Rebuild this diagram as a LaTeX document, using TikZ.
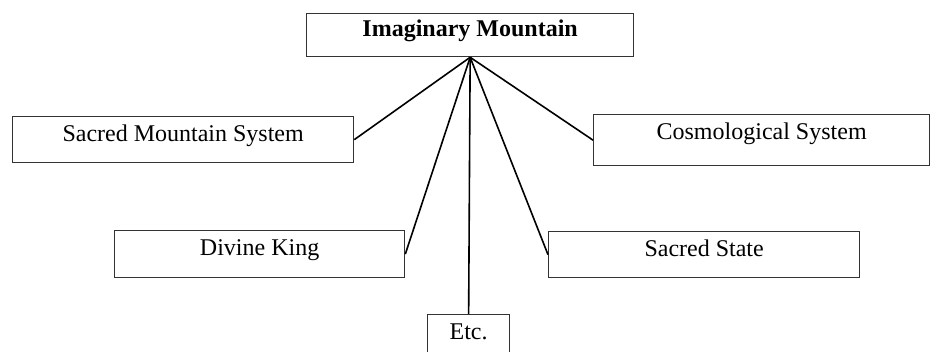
\documentclass[tikz,border=0pt]{standalone}
\usepackage{fontspec}
\setmainfont{Liberation Serif}
\begin{document}
\begin{tikzpicture}[x=1pt,y=-1pt,
  box/.style={draw=black!80, line width=1.3pt, rectangle, anchor=north west,
    inner xsep=0pt, inner ysep=0pt, text height=25pt,
    font=\fontsize{24}{28}\selectfont},
  link/.style={draw=black, line width=1.6pt}]
\useasboundingbox (0,0) rectangle (930,352);
\clip (0,0) rectangle (930,352);
\fill[white] (0,0) rectangle (930,352);

\node[box, minimum width=327pt, text height=23pt, text depth=20pt,
      font=\fontsize{24}{28}\selectfont\bfseries] (top) at (306,13) {Imaginary Mountain};
\node[box, minimum width=341pt, text depth=21pt] (smt) at (12,116) {Sacred Mountain System};
\node[box, minimum width=336pt, text depth=26pt] (cos) at (593,114) {Cosmological System};
\node[box, minimum width=290pt, text depth=22pt] (dk)  at (114,230) {Divine King};
\node[box, minimum width=311pt, text depth=21pt] (ss)  at (548,231) {Sacred State};
\node[box, minimum width=82pt,  text depth=25pt] (etc) at (427,314) {Etc.};

\draw[link] (top.south) -- (smt.east);
\draw[link] (top.south) -- (cos.west);
\draw[link] (top.south) -- (dk.east);
\draw[link] (top.south) -- (ss.west);
\draw[link] (top.south) -- (etc.north);
\end{tikzpicture}
\end{document}
